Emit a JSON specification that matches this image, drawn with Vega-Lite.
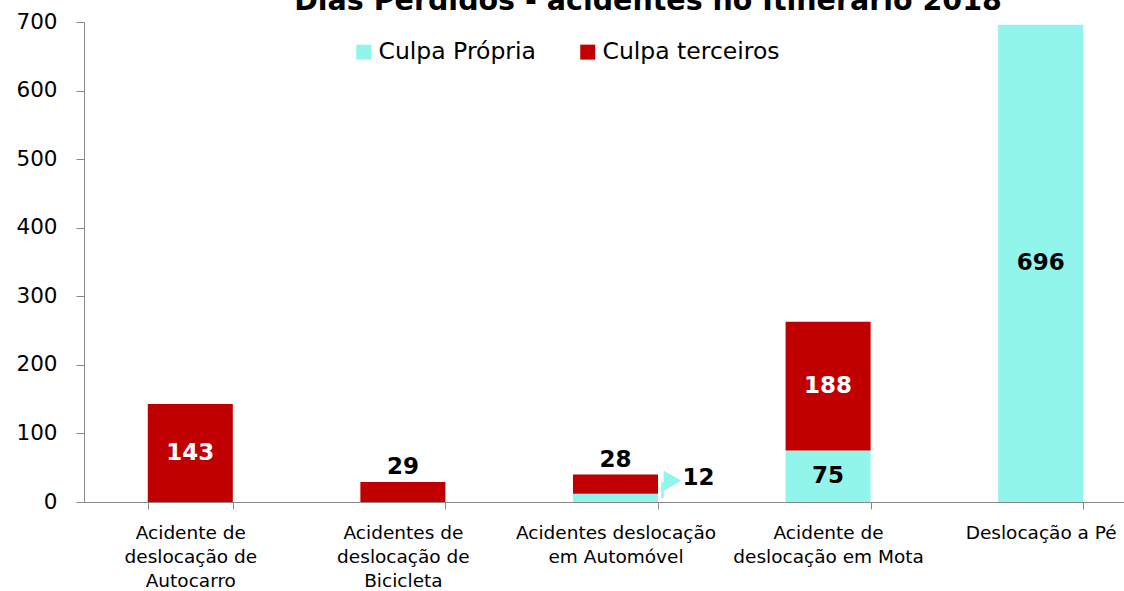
{
  "$schema": "https://vega.github.io/schema/vega-lite/v6.json",
  "width": 1040,
  "height": 480,
  "autosize": {"type": "none"},
  "padding": {"left": 84, "top": 22, "right": 0, "bottom": 89},
  "background": "white",
  "config": {"font": "DejaVu Sans", "view": {"stroke": null}},
  "title": {
    "text": "Dias Perdidos - acidentes no Itinerário 2018",
    "fontSize": 28.5,
    "fontWeight": "bold",
    "color": "#000000",
    "anchor": "middle",
    "frame": "group",
    "dx": 44,
    "dy": 27,
    "baseline": "alphabetic",
    "offset": 0
  },
  "data": {
    "values": [
      {"categoria": "Acidente de deslocação de Autocarro", "serie": "Culpa Própria", "dias": 0},
      {"categoria": "Acidente de deslocação de Autocarro", "serie": "Culpa terceiros", "dias": 143},
      {"categoria": "Acidentes de deslocação de Bicicleta", "serie": "Culpa Própria", "dias": 0},
      {"categoria": "Acidentes de deslocação de Bicicleta", "serie": "Culpa terceiros", "dias": 29},
      {"categoria": "Acidentes deslocação em Automóvel", "serie": "Culpa Própria", "dias": 12},
      {"categoria": "Acidentes deslocação em Automóvel", "serie": "Culpa terceiros", "dias": 28},
      {"categoria": "Acidente de deslocação em Mota", "serie": "Culpa Própria", "dias": 75},
      {"categoria": "Acidente de deslocação em Mota", "serie": "Culpa terceiros", "dias": 188},
      {"categoria": "Deslocação a Pé", "serie": "Culpa Própria", "dias": 696},
      {"categoria": "Deslocação a Pé", "serie": "Culpa terceiros", "dias": 0}
    ]
  },
  "transform": [
    {"stack": "dias", "groupby": ["categoria"], "sort": [{"field": "serie", "order": "ascending"}], "as": ["v0", "v1"]},
    {"calculate": "(datum.v0 + datum.v1) / 2", "as": "mid"}
  ],
  "encoding": {
    "x": {
      "field": "categoria",
      "type": "nominal",
      "sort": null,
      "scale": {"range": [0, 1063], "paddingInner": 0.6, "paddingOuter": 0.3},
      "axis": {
        "title": null,
        "labelAngle": 0,
        "labelFontSize": 18.5,
        "labelColor": "#000000",
        "labelLineHeight": 24,
        "labelPadding": 14,
        "labelLimit": 400,
        "labelOverlap": false,
        "tickSize": 7,
        "tickColor": "#888888",
        "domainColor": "#888888",
        "tickBand": "extent",
        "labelExpr": "datum.value == 'Acidente de deslocação de Autocarro' ? ['Acidente de', 'deslocação de', 'Autocarro'] : datum.value == 'Acidentes de deslocação de Bicicleta' ? ['Acidentes de', 'deslocação de', 'Bicicleta'] : datum.value == 'Acidentes deslocação em Automóvel' ? ['Acidentes deslocação', 'em Automóvel'] : datum.value == 'Acidente de deslocação em Mota' ? ['Acidente de', 'deslocação em Mota'] : datum.label"
      }
    }
  },
  "layer": [
    {
      "mark": {"type": "bar"},
      "encoding": {
        "y": {
          "field": "v0",
          "type": "quantitative",
          "scale": {"domain": [0, 700], "nice": false},
          "axis": {
            "title": null,
            "values": [0, 100, 200, 300, 400, 500, 600, 700],
            "labelFontSize": 21.5,
            "labelColor": "#000000",
            "tickSize": 8,
            "tickColor": "#888888",
            "domainColor": "#888888",
            "labelPadding": 19,
            "grid": false
          }
        },
        "y2": {"field": "v1"},
        "color": {
          "field": "serie",
          "type": "nominal",
          "scale": {"domain": ["Culpa Própria", "Culpa terceiros"], "range": ["#92F5EC", "#C00000"]},
          "legend": {
            "title": null,
            "orient": "none",
            "legendX": 268,
            "legendY": 18,
            "direction": "horizontal",
            "symbolType": "square",
            "symbolSize": 225,
            "symbolStrokeWidth": 0,
            "symbolOpacity": 1,
            "labelFontSize": 23.5,
            "labelLimit": 400,
            "labelColor": "#000000",
            "columnPadding": 40,
            "labelOffset": 3
          }
        }
      }
    },
    {
      "transform": [{"filter": "datum.dias >= 60"}],
      "mark": {"type": "text", "fontSize": 23, "fontWeight": "bold", "baseline": "middle"},
      "encoding": {
        "y": {"field": "mid", "type": "quantitative"},
        "text": {"field": "dias", "type": "quantitative"},
        "color": {"condition": {"test": "datum.serie == 'Culpa terceiros'", "value": "#FFFFFF"}, "value": "#000000"}
      }
    },
    {
      "transform": [{"filter": "datum.dias > 0 && datum.dias < 60 && datum.serie == 'Culpa terceiros'"}],
      "mark": {"type": "text", "fontSize": 23, "fontWeight": "bold", "baseline": "bottom", "dy": -3, "color": "#000000"},
      "encoding": {
        "y": {"field": "v1", "type": "quantitative"},
        "text": {"field": "dias", "type": "quantitative"}
      }
    },
    {
      "transform": [{"filter": "datum.dias > 0 && datum.dias < 60 && datum.serie == 'Culpa Própria'"}],
      "mark": {"type": "text", "fontSize": 23, "fontWeight": "bold", "baseline": "middle", "align": "left", "dx": 67, "dy": -16, "color": "#000000"},
      "encoding": {
        "y": {"field": "v1", "type": "quantitative"},
        "text": {"field": "dias", "type": "quantitative"}
      }
    },
    {
      "transform": [{"filter": "datum.dias > 0 && datum.dias < 60 && datum.serie == 'Culpa Própria'"}],
      "mark": {"type": "rule", "xOffset": 47, "y2Offset": -12, "color": "#92F5EC", "strokeWidth": 2.5},
      "encoding": {
        "y": {"field": "mid", "type": "quantitative"},
        "y2": {"field": "v1"}
      }
    },
    {
      "transform": [{"filter": "datum.dias > 0 && datum.dias < 60 && datum.serie == 'Culpa Própria'"}],
      "mark": {"type": "point", "shape": "triangle-right", "filled": true, "size": 420, "opacity": 1, "xOffset": 57, "yOffset": -13, "color": "#92F5EC"},
      "encoding": {
        "y": {"field": "v1", "type": "quantitative"}
      }
    }
  ]
}
